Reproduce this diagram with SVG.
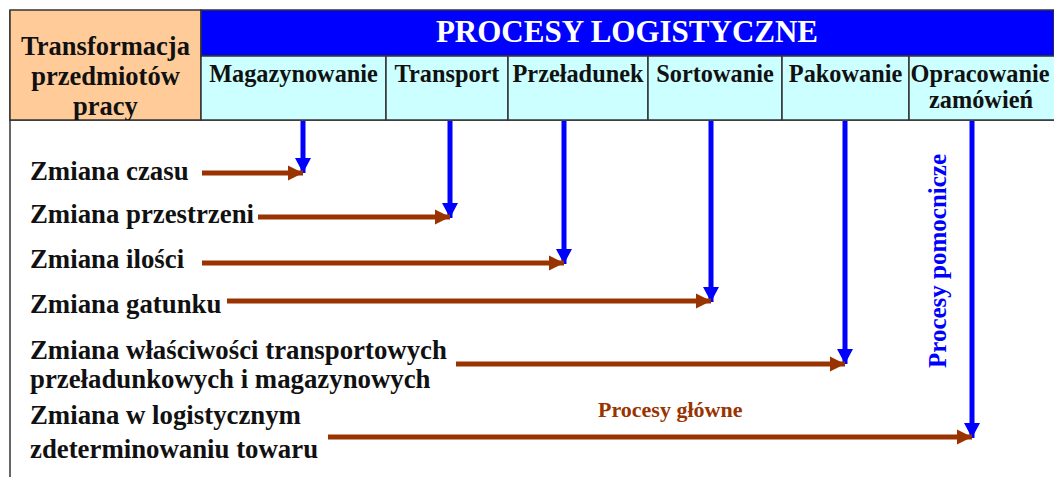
<svg xmlns="http://www.w3.org/2000/svg" width="1054" height="477" viewBox="0 0 1054 477">
<style>
.t{font-family:"Liberation Serif","Times New Roman",serif;font-weight:bold;}
.lbl{font-size:26.8px;fill:#111;}
.hd{font-size:24.3px;fill:#111;text-anchor:middle;}
.cell{fill:#CCFFFF;stroke:#333;stroke-width:1.5;}
.blue{stroke:#0000FF;stroke-width:5;fill:none;marker-end:url(#ab);}
.brown{stroke:#993300;stroke-width:5;fill:none;marker-end:url(#ar);}
</style>
<defs>
<marker id="ab" markerUnits="userSpaceOnUse" markerWidth="16" markerHeight="16" viewBox="0 0 16 16" refX="15" refY="8" orient="auto"><path d="M0,0 L15,8 L0,16 Z" fill="#0000FF"/></marker>
<marker id="ar" markerUnits="userSpaceOnUse" markerWidth="16" markerHeight="16" viewBox="0 0 16 16" refX="15" refY="8" orient="auto"><path d="M0,0.5 L15,8 L0,15.5 Z" fill="#993300"/></marker>
<clipPath id="clipT"><rect x="10" y="10" width="191" height="110"/></clipPath>
</defs>
<rect width="1054" height="477" fill="#fff"/>
<g id="frame">
<line x1="10" y1="10" x2="10" y2="477" stroke="#333" stroke-width="1.5"/>
<line x1="10" y1="120" x2="1054" y2="120" stroke="#333" stroke-width="1.5"/>
</g>
<g id="transformacja">
<rect x="10" y="10" width="191" height="110" fill="#FFCC99" stroke="#333" stroke-width="1.5"/>
<g clip-path="url(#clipT)">
<text class="t" x="105.5" y="55" font-size="26.5" text-anchor="middle" fill="#111">Transformacja</text>
<text class="t" x="105.5" y="85" font-size="26.5" text-anchor="middle" fill="#111">przedmiotów</text>
<text class="t" x="105.5" y="115" font-size="26.5" text-anchor="middle" fill="#111">pracy</text>
</g>
</g>
<g id="procesy-logistyczne">
<rect x="201" y="10" width="853" height="46" fill="#0000FF" stroke="#333" stroke-width="1.5"/>
<text class="t" x="627" y="42" font-size="31" text-anchor="middle" fill="#fff">PROCESY LOGISTYCZNE</text>
</g>
<g id="magazynowanie"><rect class="cell" x="201" y="56" width="185" height="64"/><text class="t hd" x="293.5" y="82">Magazynowanie</text></g>
<g id="transport"><rect class="cell" x="386" y="56" width="122" height="64"/><text class="t hd" x="447" y="82">Transport</text></g>
<g id="przeladunek"><rect class="cell" x="508" y="56" width="140" height="64"/><text class="t hd" x="578" y="82">Przeładunek</text></g>
<g id="sortowanie"><rect class="cell" x="648" y="56" width="134" height="64"/><text class="t hd" x="715" y="82">Sortowanie</text></g>
<g id="pakowanie"><rect class="cell" x="782" y="56" width="127" height="64"/><text class="t hd" x="845.5" y="82">Pakowanie</text></g>
<g id="opracowanie"><rect class="cell" x="909" y="56" width="150" height="64"/><text class="t hd" x="980" y="82">Opracowanie</text><text class="t hd" x="981" y="108">zamówień</text></g>
<g id="zmiana-czasu"><text class="t lbl" x="30" y="180">Zmiana czasu</text></g>
<g id="zmiana-przestrzeni"><text class="t lbl" x="30" y="223">Zmiana przestrzeni</text></g>
<g id="zmiana-ilosci"><text class="t lbl" x="30" y="268">Zmiana ilości</text></g>
<g id="zmiana-gatunku"><text class="t lbl" x="30" y="313">Zmiana gatunku</text></g>
<g id="zmiana-wlasciwosci"><text class="t lbl" x="30" y="359">Zmiana właściwości transportowych</text><text class="t lbl" x="30" y="388">przeładunkowych i magazynowych</text></g>
<g id="zmiana-logistyczna"><text class="t lbl" x="30" y="424">Zmiana w logistycznym</text><text class="t lbl" x="30" y="458">zdeterminowaniu towaru</text></g>
<g id="procesy-glowne"><text class="t" x="598" y="417" font-size="22" fill="#993300">Procesy główne</text></g>
<g id="procesy-pomocnicze"><text class="t" transform="translate(946,368) rotate(-90)" x="0" y="0" font-size="25" fill="#0000FF">Procesy pomocnicze</text></g>
<g id="connectors">
<line class="blue" x1="303" y1="121" x2="303" y2="173"/>
<line class="blue" x1="450" y1="121" x2="450" y2="218"/>
<line class="blue" x1="564" y1="121" x2="564" y2="264"/>
<line class="blue" x1="711" y1="121" x2="711" y2="302"/>
<line class="blue" x1="845" y1="121" x2="845" y2="364"/>
<line class="blue" x1="972" y1="121" x2="972" y2="438"/>
<line class="brown" x1="202" y1="173" x2="303" y2="173"/>
<line class="brown" x1="258" y1="217" x2="450" y2="217"/>
<line class="brown" x1="202" y1="263" x2="564" y2="263"/>
<line class="brown" x1="227" y1="301" x2="711" y2="301"/>
<line class="brown" x1="456" y1="364" x2="845" y2="364"/>
<line class="brown" x1="328" y1="437" x2="972" y2="437"/>
</g>
</svg>
